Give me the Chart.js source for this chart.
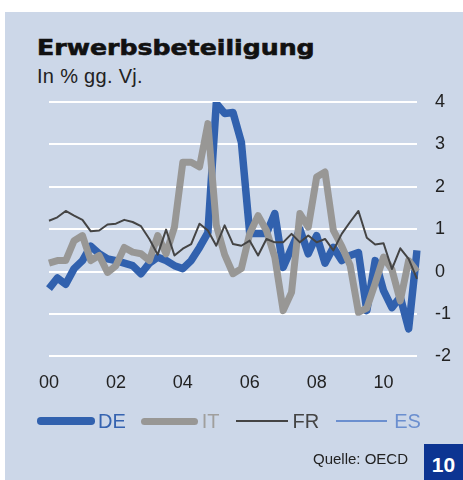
<!DOCTYPE html>
<html>
<head>
<meta charset="utf-8">
<script src="https://cdn.jsdelivr.net/npm/chart.js@4/dist/chart.umd.min.js"></script>
<style>
  body { margin: 0; background: #fff; }
  .panel { position: absolute; left: 5px; top: 12px; width: 458px; height: 468px; background: #ccd7e8; }
  #chart { position: absolute; left: 0; top: 0; }
  .title { position: absolute; left: 37px; top: 38px; font: bold 21px "DejaVu Sans", sans-serif; line-height: 21px;
           color: #111; transform: scaleX(1.2); transform-origin: left top; -webkit-text-stroke: 0.6px #111; white-space: nowrap; }
  .subtitle { position: absolute; left: 37px; top: 66px; font: 20px "Liberation Sans", Arial, sans-serif; line-height: 20px;
              letter-spacing: 0.3px; color: #222; }
  .legend { position: absolute; left: 37px; top: 411px; height: 20px; display: flex; align-items: center;
            font: 20px "Liberation Sans", Arial, sans-serif; line-height: 20px; }
  .legend .sw { display: inline-block; }
  .source { position: absolute; left: 313px; top: 451px; font: 15px "Liberation Sans", Arial, sans-serif; line-height: 15px; color: #222; }
  .num { position: absolute; left: 424px; top: 444px; width: 39px; height: 36px; background: #0c3492; color: #fff;
         font: bold 21px "Liberation Sans", Arial, sans-serif; display: flex; align-items: center; justify-content: center;
         padding-top: 6px; box-sizing: border-box; }
</style>
</head>
<body>
<div class="panel"></div>
<div class="title">Erwerbsbeteiligung</div>
<div class="subtitle">In % gg. Vj.</div>
<canvas id="chart" width="463" height="480"></canvas>
<div class="legend" id="legend"></div>
<div class="source">Quelle: OECD</div>
<div class="num">10</div>
<script>
// quarterly, 2000Q1 .. 2011Q1
const quarters = [
    '00Q1','00Q2','00Q3','00Q4','01Q1','01Q2','01Q3','01Q4',
    '02Q1','02Q2','02Q3','02Q4','03Q1','03Q2','03Q3','03Q4',
    '04Q1','04Q2','04Q3','04Q4','05Q1','05Q2','05Q3','05Q4',
    '06Q1','06Q2','06Q3','06Q4','07Q1','07Q2','07Q3','07Q4',
    '08Q1','08Q2','08Q3','08Q4','09Q1','09Q2','09Q3','09Q4',
    '10Q1','10Q2','10Q3','10Q4','11Q1'
];
const tickLabels = ['00', '02', '04', '06', '08', '10'];
const tickEvery = 8;

const deValues = [
    -0.40, -0.15, -0.30, 0.07, 0.26, 0.60, 0.42, 0.30,
    0.26, 0.20, 0.14, -0.05, 0.20, 0.34, 0.26, 0.14,
    0.07, 0.26, 0.57, 0.92, 3.97, 3.73, 3.75, 3.05,
    0.90, 0.90, 0.90, 1.37, 0.10, 0.55, 1.00, 0.42,
    0.85, 0.20, 0.57, 0.26, 0.38, 0.45, -0.92, 0.26,
    -0.45, -0.85, -0.60, -1.35, 0.50
];
const itValues = [
    0.20, 0.26, 0.26, 0.73, 0.85, 0.26, 0.38, -0.02,
    0.14, 0.57, 0.46, 0.42, 0.26, 0.85, 0.42, 1.05,
    2.58, 2.58, 2.47, 3.49, 1.10, 0.40, -0.05, 0.07,
    0.90, 1.32, 0.97, 0.34, -0.92, -0.49, 1.37, 1.05,
    2.23, 2.35, 0.97, 0.60, 0.15, -0.96, -0.86, -0.28,
    0.34, 0.05, -0.69, 0.26, 0.00
];
const frValues = [
    1.20, 1.28, 1.43, 1.32, 1.22, 0.95, 0.97, 1.11,
    1.13, 1.22, 1.17, 1.07, 0.77, 0.40, 0.99, 0.38,
    0.54, 0.65, 1.13, 0.97, 0.61, 1.09, 0.65, 0.61,
    0.73, 0.38, 0.77, 0.69, 0.69, 0.89, 0.69, 0.85,
    0.69, 0.77, 0.50, 0.89, 1.17, 1.43, 0.80, 0.64,
    0.67, 0.06, 0.55, 0.30, -0.17
];
const esValues = []; // in der Legende, im Bild ohne Linie

const series = [
    { label: 'DE', data: deValues, color: '#3161ae', text: '#3563b0', width: 7.5, order: 2 },
    { label: 'IT', data: itValues, color: '#989795', text: '#a09f9d', width: 7, order: 1 },
    { label: 'FR', data: frValues, color: '#444444', text: '#444444', width: 2, order: 0 },
    { label: 'ES', data: esValues, color: '#6b8fcf', text: '#6b8fcf', width: 1.5, order: 3 }
];

document.addEventListener('DOMContentLoaded', function() {
    buildLegend();

    const ctx = document.getElementById('chart');
    new Chart(ctx, {
        type: 'line',
        data: {
            labels: quarters,
            datasets: series.map(s => ({
                label: s.label,
                data: s.data,
                borderColor: s.color,
                borderWidth: s.width,
                borderJoinStyle: 'round',
                pointRadius: 0,
                tension: 0,
                fill: false,
                order: s.order
            }))
        },
        options: {
            responsive: false,
            animation: false,
            devicePixelRatio: 1,
            layout: { padding: { left: 49, top: 102, right: 0, bottom: 70 } },
            plugins: {
                legend: { display: false },
                tooltip: { enabled: false }
            },
            scales: {
                x: {
                    grid: { display: false, drawTicks: false },
                    border: { display: false },
                    ticks: {
                        autoSkip: false,
                        maxRotation: 0,
                        padding: 16,
                        color: '#222',
                        font: { size: 18, family: '"Liberation Sans", Arial, sans-serif' },
                        callback: (v, i) => (i % tickEvery === 0 ? tickLabels[i / tickEvery] : '')
                    }
                },
                y: {
                    position: 'right',
                    min: -2,
                    max: 4,
                    grid: { color: '#ffffff', lineWidth: 2, drawTicks: false },
                    border: { display: false },
                    ticks: {
                        stepSize: 1,
                        padding: 18,
                        color: '#222',
                        font: { size: 18, family: '"Liberation Sans", Arial, sans-serif' }
                    },
                    afterFit: scale => { scale.width = 46; }
                }
            }
        }
    });
});

function buildLegend() {
    const legend = document.getElementById('legend');
    const swatches = [
        { len: 58, gapText: 3, gapNext: 15 },
        { len: 57, gapText: 4, gapNext: 16 },
        { len: 52, gapText: 5, gapNext: 17 },
        { len: 51, gapText: 7, gapNext: 0 }
    ];
    series.forEach((s, i) => {
        const sw = document.createElement('span');
        sw.className = 'sw';
        sw.style.width = swatches[i].len + 'px';
        sw.style.height = s.width + 'px';
        sw.style.background = s.color;
        sw.style.borderRadius = s.width > 3 ? (s.width / 2) + 'px' : '0';
        sw.style.marginRight = swatches[i].gapText + 'px';
        const txt = document.createElement('span');
        txt.textContent = s.label;
        txt.style.color = s.text;
        txt.style.marginRight = swatches[i].gapNext + 'px';
        legend.appendChild(sw);
        legend.appendChild(txt);
    });
}
</script>
</body>
</html>
